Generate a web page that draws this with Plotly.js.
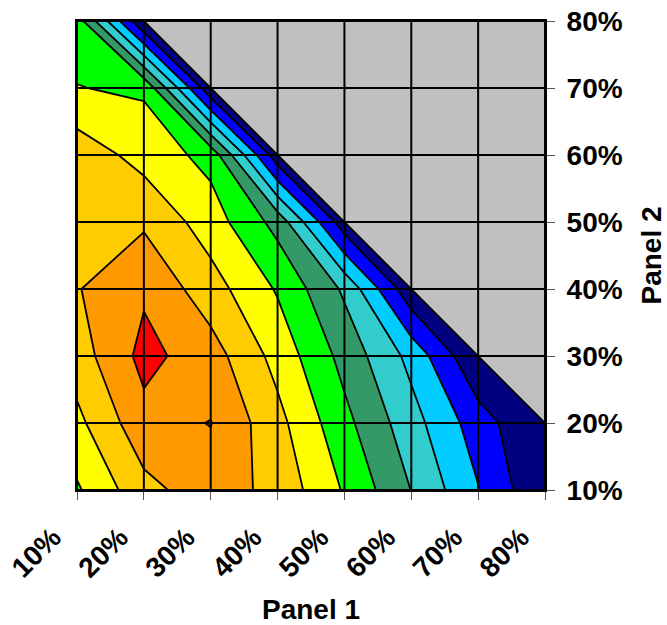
<!DOCTYPE html>
<html>
<head>
<meta charset="utf-8">
<script src="https://cdn.plot.ly/plotly-3.0.1.min.js"></script>
<style>
html,body{margin:0;padding:0;background:#ffffff;}
#chart{width:667px;height:625px;}
</style>
</head>
<body>
<div id="chart"></div>
<script>
// Axis categories (percent values)
const panel1 = [10, 20, 30, 40, 50, 60, 70, 80];
const panel2 = [10, 20, 30, 40, 50, 60, 70, 80];
const tickLabels = ['10%', '20%', '30%', '40%', '50%', '60%', '70%', '80%'];

// Surface values, one row per Panel 2 value (null = Panel 1 + Panel 2 > 100%)
const row10 = [5.87, 7.69, 8.55, 7.68, 5.90, 3.98, 2.05, 0.03];
const row20 = [6.74, 8.68, 9.03, 7.31, 5.29, 3.40, 1.48, -0.10];
const row30 = [7.52, 9.30, 8.45, 6.65, 4.66, 2.70, 0.03, null];
const row40 = [7.94, 8.85, 7.43, 5.90, 3.83, 0.24, null, null];
const row50 = [7.50, 7.85, 6.50, 4.65, 0.38, null, null, null];
const row60 = [7.62, 6.62, 5.67, 0.34, null, null, null, null];
const row70 = [6.03, 5.85, 0.20, null, null, null, null, null];
const row80 = [5.52, 0.01, null, null, null, null, null, null];

// Contour bands (lowest to highest)
const bandColors = ['#000080', '#0000FF', '#00CCFF', '#33CCCC', '#339966',
                    '#00FF00', '#FFFF00', '#FFCC00', '#FF9900', '#FF0000'];

const z = [row10, row20, row30, row40, row50, row60, row70, row80];
const colorscale = bandColors.map((c, i) => [i / (bandColors.length - 1), c]);

const contourTrace = {
  type: 'contour',
  x: panel1,
  y: panel2,
  z: z,
  autocontour: false,
  contours: {start: 1, end: 9, size: 1, coloring: 'fill', showlines: true},
  colorscale: colorscale,
  showscale: false,
  line: {color: '#000000', width: 1.8, smoothing: 0},
  hoverinfo: 'skip'
};

// Region without data (Panel 1 + Panel 2 > 100%)
const blankTrace = {
  type: 'scatter',
  mode: 'lines',
  x: [panel1[1], panel1[panel1.length - 1], panel1[panel1.length - 1], panel1[1]],
  y: [panel2[panel2.length - 1], panel2[panel2.length - 1], panel2[1], panel2[panel2.length - 1]],
  fill: 'toself',
  fillcolor: '#C0C0C0',
  line: {color: '#000000', width: 1.8},
  hoverinfo: 'skip',
  showlegend: false
};

const shapes = [];
panel1.forEach(v => shapes.push({type: 'line', xref: 'x', yref: 'y', x0: v, x1: v,
  y0: panel2[0], y1: panel2[panel2.length - 1], line: {color: '#000000', width: 2}, layer: 'above'}));
panel2.forEach(v => shapes.push({type: 'line', xref: 'x', yref: 'y', y0: v, y1: v,
  x0: panel1[0], x1: panel1[panel1.length - 1], line: {color: '#000000', width: 2}, layer: 'above'}));

const labelFont = {family: 'Arial, "Liberation Sans", sans-serif', size: 28, color: '#000000', weight: 'bold'};

const layout = {
  width: 667,
  height: 625,
  margin: {l: 77, r: 122, t: 21, b: 135},
  paper_bgcolor: '#ffffff',
  plot_bgcolor: '#C0C0C0',
  showlegend: false,
  font: {family: 'Arial, "Liberation Sans", sans-serif', size: 28, color: '#000000'},
  xaxis: {
    range: [panel1[0], panel1[panel1.length - 1]],
    tickvals: panel1,
    ticktext: tickLabels,
    tickangle: -45,
    ticks: 'outside',
    ticklen: 8,
    tickcolor: '#555555',
    tickfont: labelFont,
    ticklabelstandoff: 10,
    ticklabelshift: -24,
    showgrid: false,
    zeroline: false,
    showline: true,
    linecolor: '#000000',
    linewidth: 2,
    mirror: true,
    layer: 'above traces',
    title: {text: 'Panel 1', font: labelFont, standoff: 34}
  },
  yaxis: {
    range: [panel2[0], panel2[panel2.length - 1]],
    side: 'right',
    tickvals: panel2,
    ticktext: tickLabels,
    ticks: 'outside',
    ticklen: 8,
    tickcolor: '#555555',
    tickfont: labelFont,
    ticklabelstandoff: 6,
    showgrid: false,
    zeroline: false,
    showline: true,
    linecolor: '#000000',
    linewidth: 2,
    mirror: true,
    layer: 'above traces',
    title: {text: 'Panel 2', font: labelFont, standoff: 20}
  },
  shapes: shapes
};

Plotly.newPlot('chart', [contourTrace, blankTrace], layout, {staticPlot: true, displayModeBar: false});
</script>
</body>
</html>
